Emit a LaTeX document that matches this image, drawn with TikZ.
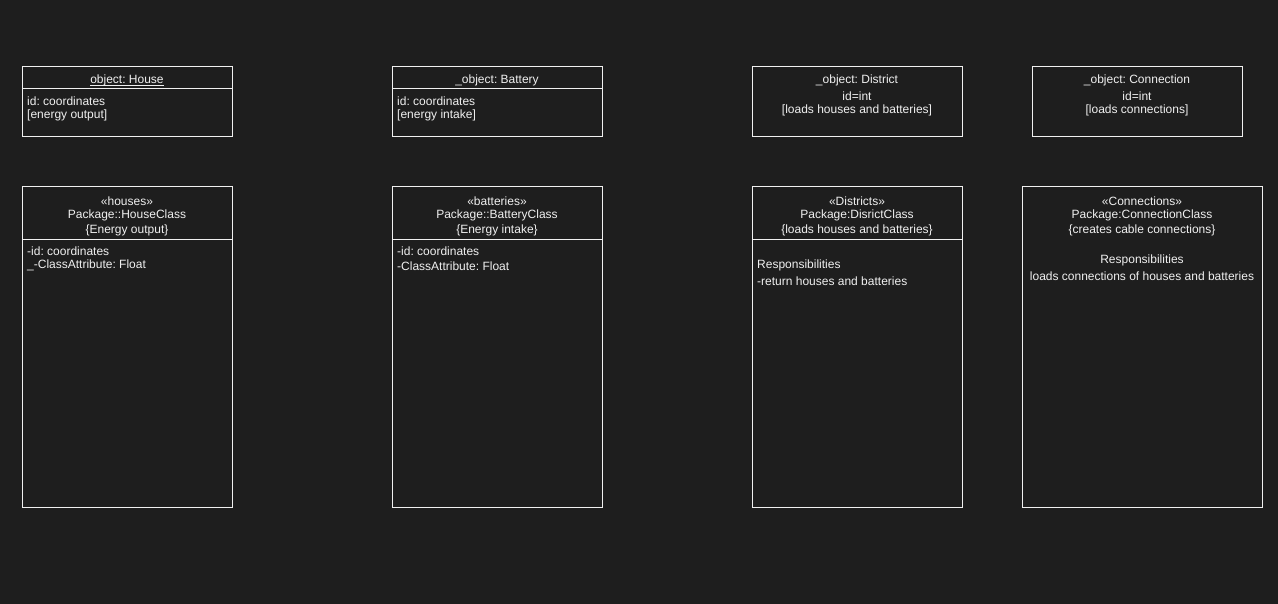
\documentclass[tikz,border=0pt]{standalone}
\usepackage{fontspec}
\setmainfont{Liberation Sans}
\definecolor{canvas}{HTML}{1E1E1E}
\definecolor{ink}{HTML}{F0F0F0}
\begin{document}
\frenchspacing
\begin{tikzpicture}[x=1pt,y=-1pt,
  every node/.style={text=ink,font=\fontsize{12}{15}\selectfont\frenchspacing,inner sep=0pt,yshift=-0.8pt},
  umlbox/.style={draw=ink,line width=1pt},
  divider/.style={draw=ink,line width=1pt},
  underbar/.style={draw=ink,line width=0.8pt},
  ctr/.style={anchor=center,align=center},
  lft/.style={anchor=west,align=left}]
  % canvas
  \fill[canvas] (0,0) rectangle (1278,604);
  \useasboundingbox (0,0) rectangle (1278,604);

  % ---- object boxes ----
  \draw[umlbox] (22,67) rectangle (232,137);
  \draw[divider] (22,89) -- (232,89);
  \node[ctr] (houseobj) at (127,80) {object: House};
  \draw[underbar] ([yshift=-1.6pt]houseobj.base west) -- ([yshift=-1.6pt]houseobj.base east);
  \node[lft] (houseobja) at (27,100) {id: coordinates};
  \node[lft] (houseobjb) at (27,115) {[energy output]};

  \draw[umlbox] (392,67) rectangle (602,137);
  \draw[divider] (392,89) -- (602,89);
  \node[ctr] (battobj) at (497,80) {\_object: Battery};
  \node[lft] (battobja) at (397,100) {id: coordinates};
  \node[lft] (battobjb) at (397,115) {[energy intake]};

  \draw[umlbox] (752,67) rectangle (962,137);
  \node[ctr] (distobj) at (857,80) {\_object: District};
  \node[ctr] (distobja) at (857,95) {id=int};
  \node[ctr] (distobjb) at (857,110) {[loads houses and batteries]};

  \draw[umlbox] (1032,67) rectangle (1242,137);
  \node[ctr] (connobj) at (1137,80) {\_object: Connection};
  \node[ctr] (connobja) at (1137,95) {id=int};
  \node[ctr] (connobjb) at (1137,110) {[loads connections]};

  % ---- class boxes ----
  \draw[umlbox] (22,187) rectangle (232,507);
  \draw[divider] (22,240) -- (232,240);
  \node[ctr] (housecls) at (127,200) {«houses»};
  \node[ctr] (houseclsa) at (127,215) {Package::HouseClass};
  \node[ctr] (houseclsb) at (127,230) {\{Energy output\}};
  \node[lft] (houseclsc) at (27,250) {-id: coordinates};
  \node[lft] (houseclsd) at (27,265) {\_-ClassAttribute: Float};

  \draw[umlbox] (392,187) rectangle (602,507);
  \draw[divider] (392,240) -- (602,240);
  \node[ctr] (battcls) at (497,200) {«batteries»};
  \node[ctr] (battclsa) at (497,215) {Package::BatteryClass};
  \node[ctr] (battclsb) at (497,230) {\{Energy intake\}};
  \node[lft] (battclsc) at (397,250) {-id: coordinates};
  \node[lft] (battclsd) at (397,265) {-ClassAttribute: Float};

  \draw[umlbox] (752,187) rectangle (962,507);
  \draw[divider] (752,240) -- (962,240);
  \node[ctr] (distcls) at (857,200) {«Districts»};
  \node[ctr] (distclsa) at (857,215) {Package:DisrictClass};
  \node[ctr] (distclsb) at (857,230) {\{loads houses and batteries\}};
  \node[lft] (distclsc) at (757,265) {Responsibilities};
  \node[lft] (distclsd) at (757,280) {-return houses and batteries};

  \draw[umlbox] (1022,187) rectangle (1262,507);
  \node[ctr] (conncls) at (1142,200) {«Connections»};
  \node[ctr] (connclsa) at (1142,215) {Package:ConnectionClass};
  \node[ctr] (connclsb) at (1142,230) {\{creates cable connections\}};
  \node[ctr] (connclsc) at (1142,260) {Responsibilities};
  \node[ctr] (connclsd) at (1142,275) {loads connections of houses and batteries};
\end{tikzpicture}
\end{document}
